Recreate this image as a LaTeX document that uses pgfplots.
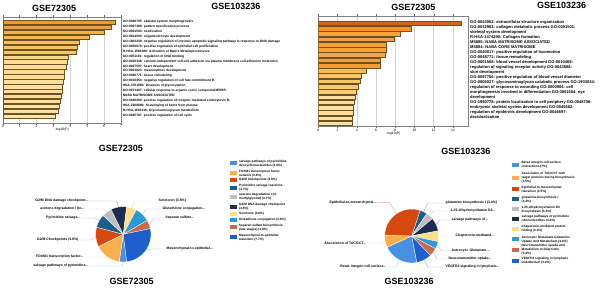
\documentclass[border=0pt]{standalone}
\usepackage{pgfplots}
\pgfplotsset{compat=1.18}
\usepackage{pgfplotstable}
\usepackage{fontspec}
\setmainfont{Liberation Sans}

% pie palette
\definecolor{cMB}{HTML}{4A90E2}
\definecolor{cOR}{HTML}{F8B04C}
\definecolor{cRD}{HTML}{D5480E}
\definecolor{cTL}{HTML}{1B5E8A}
\definecolor{cGY}{HTML}{BEBEBE}
\definecolor{cNV}{HTML}{1C2D4F}
\definecolor{cYL}{HTML}{FBDF8A}
\definecolor{cCY}{HTML}{2A9AD6}
\definecolor{cBR}{HTML}{C7694B}
\definecolor{cRB}{HTML}{1E5FCB}
\definecolor{barEdge}{HTML}{6E5220}
% left bars
\definecolor{L1}{HTML}{F39A2D}\definecolor{L2}{HTML}{EE9F4D}\definecolor{L3}{HTML}{F5B243}
\definecolor{L4}{HTML}{F6B94E}\definecolor{L5}{HTML}{F7C05A}\definecolor{L6}{HTML}{F7C460}
\definecolor{L7}{HTML}{F7C768}\definecolor{L8}{HTML}{FAD78A}\definecolor{L9}{HTML}{FBDC92}
\definecolor{L10}{HTML}{FBDE98}\definecolor{L11}{HTML}{FADB94}\definecolor{L12}{HTML}{FBE09C}
\definecolor{L13}{HTML}{FBDF9A}\definecolor{L14}{HTML}{FCE2A2}\definecolor{L15}{HTML}{FBE0A0}
\definecolor{L16}{HTML}{FAD99A}\definecolor{L17}{HTML}{FBDFA0}\definecolor{L18}{HTML}{FCE3A6}
\definecolor{L19}{HTML}{FBE1A4}\definecolor{L20}{HTML}{FCE4AA}
% right bars
\definecolor{R1}{HTML}{D5621F}\definecolor{R2}{HTML}{F7931E}\definecolor{R3}{HTML}{F9A43A}
\definecolor{R4}{HTML}{EF9D4E}\definecolor{R5}{HTML}{F7A132}\definecolor{R6}{HTML}{F7A132}
\definecolor{R7}{HTML}{F3A552}\definecolor{R8}{HTML}{F79D2F}\definecolor{R9}{HTML}{F79D2F}
\definecolor{R10}{HTML}{F6BC55}\definecolor{R11}{HTML}{F8C562}\definecolor{R12}{HTML}{F8C866}
\definecolor{R13}{HTML}{F7C96C}\definecolor{R14}{HTML}{F8CD72}\definecolor{R15}{HTML}{FCE0A2}
\definecolor{R16}{HTML}{FBDD9C}\definecolor{R17}{HTML}{FCE1A4}\definecolor{R18}{HTML}{FBDFA0}
\definecolor{R19}{HTML}{FCE2A6}\definecolor{R20}{HTML}{FCE3A8}

\newcommand\tickfont{\fontsize{3.4}{4}\selectfont}
\newcommand\lblfontL{\fontsize{3.25}{4.9}\selectfont\bfseries}
\newcommand\lblfontR{\fontsize{4.05}{5.03}\selectfont\bfseries}
\newcommand\legfont{\fontsize{3.15}{4}\selectfont\bfseries}
\newcommand\callfont{\fontsize{3.45}{4.2}\selectfont\bfseries}
\newcommand\ttlfont{\fontsize{9}{10}\selectfont\bfseries}

% pie slice data (degrees, clockwise from start angle)
\pgfplotstableread{
deg  col
15.5 cMB
55.5 cOR
41   cRD
28   cTL
21   cGY
33   cNV
21   cYL
32   cCY
18   cBR
95   cRB
}\pieA
\pgfplotstableread{
deg   col
76.5  cMB
26.5  cOR
106.5 cRD
15.5  cTL
16    cGY
29    cNV
23    cYL
16    cCY
18    cBR
33    cRB
}\pieB

\makeatletter
\newcommand\buildpie[4]{%
  \xdef\pie@cur{#2}%
  \gdef#4{}%
  \pgfplotstablegetrowsof{#1}%
  \pgfmathtruncatemacro\pie@n{\pgfplotsretval-1}%
  \foreach \pie@i in {0,...,\pie@n}{%
    \pgfplotstablegetelem{\pie@i}{deg}\of{#1}\let\pie@d\pgfplotsretval
    \pgfplotstablegetelem{\pie@i}{col}\of{#1}\let\pie@c\pgfplotsretval
    \pgfmathsetmacro\pie@end{\pie@cur-\pie@d}%
    \pgfmathsetmacro\pie@sx{#3*cos(\pie@cur)}%
    \pgfmathsetmacro\pie@sy{#3*sin(\pie@cur)}%
    \edef\pie@tmp{\noexpand\fill[\pie@c,draw=white,line width=0.3pt] (axis cs:0,0) -- (axis cs:\pie@sx,\pie@sy) arc[start angle=\pie@cur,end angle=\pie@end,radius=#3pt] -- cycle;}%
    \expandafter\g@addto@macro\expandafter#4\expandafter{\pie@tmp}%
    \xdef\pie@cur{\pie@end}%
  }%
}
\makeatother
\buildpie{\pieA}{-83}{27.7}{\pieAcmds}
\buildpie{\pieB}{-79}{27}{\pieBcmds}

\pgfplotsset{
  mybar/.style={
    scale only axis, y dir=reverse, ytick=\empty,
    xmajorgrids, grid style={black!18, line width=0.4pt},
    axis line style={black!50, line width=0.4pt},
    tick align=outside, major tick length=1.5pt,
    tick style={black!60, line width=0.3pt},
    xticklabel style={font=\tickfont, inner sep=0.6pt},
    xlabel style={font=\tickfont, inner sep=0pt},
    xlabel={-log10(P)},
    every axis plot/.append style={xbar, bar shift=0pt, draw=barEdge, line width=0.4pt},
    /pgf/number format/assume math mode=true,
  },
  pieax/.style={hide axis, x=1pt, y=1pt, xmin=-60, xmax=60, ymin=-40, ymax=40,
    anchor=center, clip=false, scale only axis},
}

\begin{document}
\begin{tikzpicture}[x=1pt,y=1pt]
\path[use as bounding box] (0,0) rectangle (600,287);

% ---------------- top-left bar chart ----------------
\begin{axis}[mybar, at={(2.7pt,270pt)}, anchor=north west, width=118.3pt, height=106pt,
  xmin=0, xmax=7, ymin=-0.1, ymax=21.4, xtick={0,1,...,7},
  every axis plot/.append style={bar width=4.4pt}]
\addplot[fill=L1] coordinates {(6.65,1)};
\addplot[fill=L2] coordinates {(6.41,2)};
\addplot[fill=L3] coordinates {(5.98,3)};
\addplot[fill=L4] coordinates {(5.13,4)};
\addplot[fill=L5] coordinates {(4.50,5)};
\addplot[fill=L6] coordinates {(4.42,6)};
\addplot[fill=L7] coordinates {(4.36,7)};
\addplot[fill=L8] coordinates {(3.89,8)};
\addplot[fill=L9] coordinates {(3.83,9)};
\addplot[fill=L10] coordinates {(3.73,10)};
\addplot[fill=L11] coordinates {(3.65,11)};
\addplot[fill=L12] coordinates {(3.61,12)};
\addplot[fill=L13] coordinates {(3.59,13)};
\addplot[fill=L14] coordinates {(3.55,14)};
\addplot[fill=L15] coordinates {(3.51,15)};
\addplot[fill=L16] coordinates {(3.45,16)};
\addplot[fill=L17] coordinates {(3.41,17)};
\addplot[fill=L18] coordinates {(3.37,18)};
\addplot[fill=L19] coordinates {(3.29,19)};
\addplot[fill=L20] coordinates {(3.10,20)};
\end{axis}
\node[anchor=north west, inner sep=0, align=left, font=\lblfontL] at (122.7,266.6) {%
GO:0048705: skeletal system morphogenesis\\
GO:0007389: pattern specification process\\
GO:0001503: ossification\\
GO:0014003: oligodendrocyte development\\
GO:1902230: negative regulation of intrinsic apoptotic signaling pathway in response to DNA damage\\
GO:0050678: positive regulation of epithelial cell proliferation\\
R-HSA-1592389: Activation of Matrix Metalloproteinases\\
GO:0051101: regulation of DNA binding\\
GO:0016338: calcium-independent cell-cell adhesion via plasma membrane cell-adhesion molecules\\
GO:0007507: heart development\\
GO:0001823: mesonephros development\\
GO:0048771: tissue remodeling\\
GO:0010454: negative regulation of cell fate commitment R-\\
HSA-3781860: Diseases of glycosylation\\
GO:0071407: cellular response to organic cyclic compound M5885:\\
NABA MATRISOME ASSOCIATED\\
GO:0048260: positive regulation of receptor-mediated endocytosis R-\\
HSA-2168880: Scavenging of heme from plasma\\
R-HSA-1630316: Glycosaminoglycan metabolism\\
GO:0045787: positive regulation of cell cycle};
\node[font=\ttlfont] at (54.2,278.7) {GSE72305};
\node[font=\ttlfont] at (235.8,280.3) {GSE103236};

% ---------------- top-right bar chart ----------------
\begin{axis}[mybar, at={(318.3pt,271pt)}, anchor=north west, width=150pt, height=110.5pt,
  xmin=0, xmax=15.6, ymin=-0.4, ymax=20.6, xtick={0,2,...,14},
  every axis plot/.append style={bar width=4.6pt}]
\addplot[fill=R1] coordinates {(14.9,1)};
\addplot[fill=R2] coordinates {(9.65,2)};
\addplot[fill=R3] coordinates {(8.55,3)};
\addplot[fill=R4] coordinates {(7.85,4)};
\addplot[fill=R5] coordinates {(7.10,5)};
\addplot[fill=R6] coordinates {(7.10,6)};
\addplot[fill=R7] coordinates {(6.95,7)};
\addplot[fill=R8] coordinates {(6.45,8)};
\addplot[fill=R9] coordinates {(6.45,9)};
\addplot[fill=R10] coordinates {(5.00,10)};
\addplot[fill=R11] coordinates {(4.50,11)};
\addplot[fill=R12] coordinates {(4.40,12)};
\addplot[fill=R13] coordinates {(4.20,13)};
\addplot[fill=R14] coordinates {(3.90,14)};
\addplot[fill=R15] coordinates {(3.85,15)};
\addplot[fill=R16] coordinates {(3.75,16)};
\addplot[fill=R17] coordinates {(3.65,17)};
\addplot[fill=R18] coordinates {(3.60,18)};
\addplot[fill=R19] coordinates {(3.55,19)};
\addplot[fill=R20] coordinates {(3.50,20)};
\end{axis}
\node[anchor=north west, inner sep=0, align=left, font=\lblfontR] at (470,267.1) {%
GO:0043062: extracellular structure organization\\
GO:0032963: collagen metabolic process GO:0001501:\\
skeletal system development\\
R-HSA-1474290: Collagen formation\\
M5885: NABA MATRISOME ASSOCIATED\\
M5884: NABA CORE MATRISOME\\
GO:0040017: positive regulation of locomotion\\
GO:0048771: tissue remodeling\\
GO:0001568: blood vessel development GO:0010469:\\
regulation of signaling receptor activity GO:0043588:\\
skin development\\
GO:0097756: positive regulation of blood vessel diameter\\
GO:0006027: glycosaminoglycan catabolic process GO:1903034:\\
regulation of response to wounding GO:0000904: cell\\
morphogenesis involved in differentiation GO:0001654: eye\\
development\\
GO:1990778: protein localization to cell periphery GO:0048706:\\
embryonic skeletal system development GO:0045682:\\
regulation of epidermis development GO:0046697:\\
decidualization};
\node[font=\ttlfont] at (413.3,279.8) {GSE72305};
\node[font=\ttlfont] at (561.7,281.5) {GSE103236};

% ---------------- bottom-left pie ----------------
\begin{axis}[pieax, at={(123.3pt,52.7pt)}]
\pieAcmds
\draw[cNV!45, line width=0.4pt] (-34.3,33.3) -- (-6.6,33.3) -- (-4.6,27.3);
\draw[cGY!70, line width=0.4pt] (-38.3,25.3) -- (-20,25.3) -- (-16.5,22.3);
\draw[cTL!45, line width=0.4pt] (-42.3,16.3) -- (-28,16.3) -- (-24.2,13.4);
\draw[cRD!45, line width=0.4pt] (-44.3,-5.7) -- (-32,-5.7) -- (-27.6,-2.7);
\draw[cOR!60, line width=0.4pt] (-39.3,-22.7) -- (-20,-22.7) -- (-16.4,-22.3);
\draw[cMB!50, line width=0.4pt] (-34.3,-31.7) -- (-1,-31.7) -- (-0.4,-27.7);
\draw[cYL!90!black!60, line width=0.4pt] (8.3,26.4) -- (11.7,33.3) -- (34.7,33.3);
\draw[cCY!50, line width=0.4pt] (19.2,19.9) -- (23,25.3) -- (38.7,25.3);
\draw[cBR!50, line width=0.4pt] (25.9,9.9) -- (31,16.3) -- (41.7,16.3);
\draw[cRB!50, line width=0.4pt] (22.5,-16.1) -- (27,-14.7) -- (42.7,-14.7);
\node[anchor=east, inner sep=0.5pt, font=\callfont] at (-34.3,33.3) {G2/M DNA damage checkpoint...};
\node[anchor=east, inner sep=0.5pt, font=\callfont] at (-38.3,25.3) {acetone degradation I (to...};
\node[anchor=east, inner sep=0.5pt, font=\callfont] at (-42.3,16.3) {Pyrimidine salvage...};
\node[anchor=east, inner sep=0.5pt, font=\callfont] at (-44.3,-5.7) {G2/M Checkpoints (3.8\%)};
\node[anchor=east, inner sep=0.5pt, font=\callfont] at (-39.3,-22.7) {FOXM1 transcription factor...};
\node[anchor=east, inner sep=0.5pt, font=\callfont] at (-34.3,-31.7) {salvage pathways of pyrimidine...};
\node[anchor=west, inner sep=0.5pt, font=\callfont] at (34.7,33.3) {Serotonin (3.8\%)};
\node[anchor=west, inner sep=0.5pt, font=\callfont] at (38.7,25.3) {Glutathione conjugation...};
\node[anchor=west, inner sep=0.5pt, font=\callfont] at (41.7,16.3) {heparan sulfate...};
\node[anchor=west, inner sep=0.5pt, font=\callfont] at (42.7,-14.7) {Mesenchymal-to-epithelial...};
\end{axis}
\node[font=\ttlfont] at (120.8,138.2) {GSE72305};
\node[font=\ttlfont] at (131.7,5.8) {GSE72305};
% legend left
\foreach \y/\c/\t in {123.7/cMB/{salvage pathways of pyrimidine\\deoxyribonucleotides (3.8\%)},
  113.7/cOR/{FOXM1 transcription factor\\network (3.8\%)},
  107/cRD/{G2/M Checkpoints (3.8\%)},
  99.3/cTL/{Pyrimidine salvage reactions\\(3.7\%)},
  90.3/cGY/{acetone degradation I (to\\methylglyoxal) (3.7\%)},
  80.3/cNV/{G2/M DNA damage checkpoint\\(3.8\%)},
  73/cYL/{Serotonin (3.8\%)},
  67/cCY/{Glutathione conjugation (3.9\%)},
  59.7/cBR/{heparan sulfate biosynthesis\\(late stages) (3.9\%)},
  49.7/cRB/{Mesenchymal-to-epithelial\\transition (7.7\%)}}{
  \fill[\c] (230,\y-2) rectangle (237.3,\y+2);
  \node[anchor=west, inner sep=0, align=left, font=\legfont] at (239,\y) {\t};
}

% ---------------- bottom-right pie ----------------
\begin{axis}[pieax, at={(411.7pt,51pt)}]
\pieBcmds
\draw[cRD!45, line width=0.4pt] (-34.7,33.3) -- (-22,33.3) -- (-15.4,22.2);
\draw[cOR!60, line width=0.4pt] (-44.7,-7) -- (-30,-7) -- (-26.5,-5.3);
\draw[cMB!50, line width=0.4pt] (-24.7,-31) -- (-16,-31) -- (-12.4,-24);
\draw[cTL!45, line width=0.4pt] (11.9,24.2) -- (16,33) -- (33.3,33);
\draw[cGY!70, line width=0.4pt] (18.1,20.1) -- (22,25) -- (38.3,25);
\draw[cNV!45, line width=0.4pt] (24.4,11.6) -- (28,16) -- (39.3,16);
\draw[cYL!90!black!60, line width=0.4pt] (27,-0.2) -- (31,0) -- (43.3,0);
\draw[cCY!50, line width=0.4pt] (25.4,-9.2) -- (30,-15) -- (39.3,-15);
\draw[cBR!50, line width=0.4pt] (21.6,-16.2) -- (25,-23) -- (36.3,-23);
\draw[cRB!50, line width=0.4pt] (12.5,-24) -- (16,-31) -- (33.3,-31);
\node[anchor=east, inner sep=0.5pt, font=\callfont] at (-34.7,33.3) {Epithelial-to-mesenchymal...};
\node[anchor=east, inner sep=0.5pt, font=\callfont] at (-44.7,-7) {Association of TriC/CCT...};
\node[anchor=east, inner sep=0.5pt, font=\callfont] at (-24.7,-31) {Beta1 integrin cell surface...};
\node[anchor=west, inner sep=0.5pt, font=\callfont] at (33.3,33) {glutamine biosynthesis I (3.4\%)};
\node[anchor=west, inner sep=0.5pt, font=\callfont] at (38.3,25) {1,25-dihydroxyvitamin D3...};
\node[anchor=west, inner sep=0.5pt, font=\callfont] at (39.3,16) {salvage pathways of...};
\node[anchor=west, inner sep=0.5pt, font=\callfont] at (43.3,0) {Chaperonin-mediated...};
\node[anchor=west, inner sep=0.5pt, font=\callfont] at (39.3,-15) {Astrocytic Glutamate-...};
\node[anchor=west, inner sep=0.5pt, font=\callfont] at (36.3,-23) {Neurotransmitter uptake...};
\node[anchor=west, inner sep=0.5pt, font=\callfont] at (33.3,-31) {VEGFR3 signaling in lymphatic...};
\end{axis}
\node[font=\ttlfont] at (465.8,135.8) {GSE103236};
\node[font=\ttlfont] at (409.2,5.5) {GSE103236};
% legend right
\foreach \y/\c/\t in {122/cMB/{Beta1 integrin cell surface\\interactions (7\%)},
  109.5/cOR/{Association of TriC/CCT with\\target proteins during biosynthesis\\(3.5\%)},
  97.7/cRD/{Epithelial-to-mesenchymal\\transition (3.5\%)},
  87.7/cTL/{glutamine biosynthesis I\\(3.4\%)},
  77.7/cGY/{1,25-dihydroxyvitamin D3\\biosynthesis (3.4\%)},
  68/cNV/{salvage pathways of pyrimidine\\ribonucleotides (3.4\%)},
  58/cYL/{Chaperonin-mediated protein\\folding (3.4\%)},
  47.7/cCY/{Astrocytic Glutamate-Glutamine\\Uptake And Metabolism (3.4\%)},
  37.5/cBR/{Neurotransmitter uptake and\\Metabolism In Glial Cells\\(3.4\%)},
  26/cRB/{VEGFR3 signaling in lymphatic\\endothelium (3.4\%)}}{
  \fill[\c] (511.7,\y-2) rectangle (519.3,\y+2);
  \node[anchor=west, inner sep=0, align=left, font=\legfont] at (521.5,\y) {\t};
}
\end{tikzpicture}
\end{document}
